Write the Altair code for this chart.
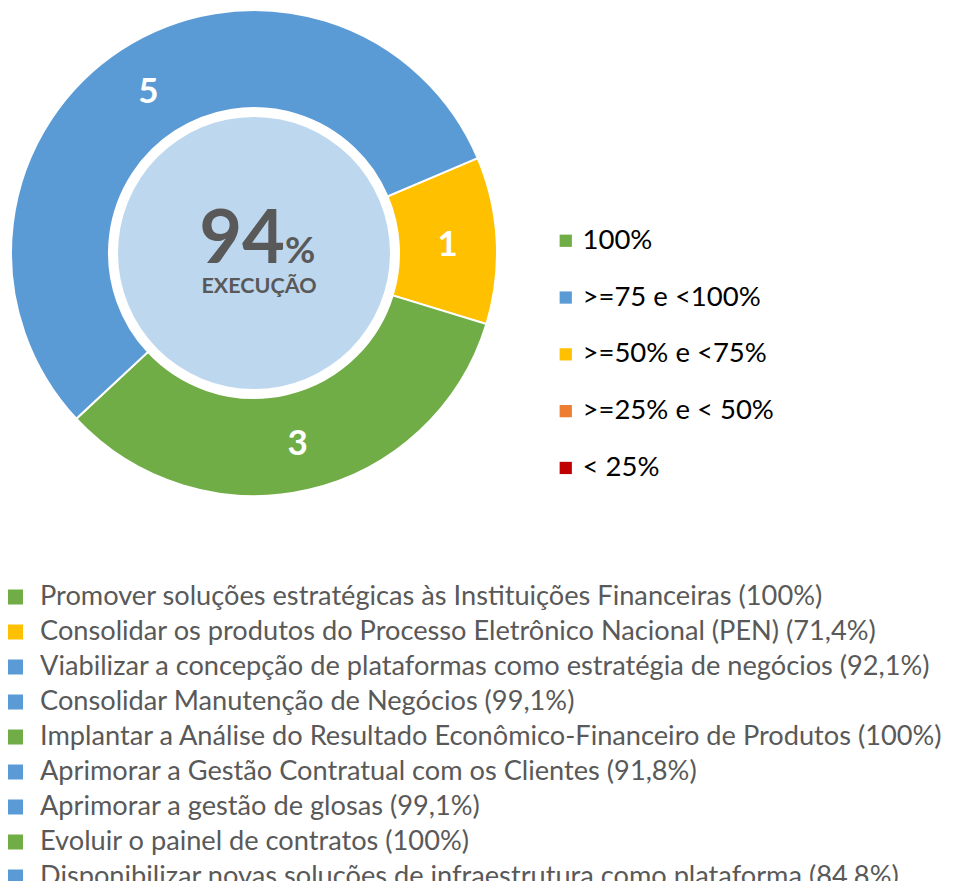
import math
import altair as alt
import pandas as pd

# ---- data ----
status_levels = ["100%", ">=75 e <100%", ">=50% e <75%", ">=25% e < 50%", "< 25%"]
status_colors = ["#70AD47", "#5B9BD5", "#FFC000", "#ED7D31", "#C00000"]

seg_status = [">=50% e <75%", "100%", ">=75 e <100%"]
seg_count = [1, 3, 5]
seg_order = [1, 2, 3]

items = [
    "Promover soluções estratégicas às Instituições Financeiras (100%)",
    "Consolidar os produtos do Processo Eletrônico Nacional (PEN) (71,4%)",
    "Viabilizar a concepção de plataformas como estratégia de negócios (92,1%)",
    "Consolidar Manutenção de Negócios (99,1%)",
    "Implantar a Análise do Resultado Econômico-Financeiro de Produtos (100%)",
    "Aprimorar a Gestão Contratual com os Clientes (91,8%)",
    "Aprimorar a gestão de glosas (99,1%)",
    "Evoluir o painel de contratos (100%)",
    "Disponibilizar novas soluções de infraestrutura como plataforma (84,8%)",
]
item_status = ["100%", ">=50% e <75%", ">=75 e <100%", ">=75 e <100%", "100%",
               ">=75 e <100%", ">=75 e <100%", "100%", ">=75 e <100%"]

center_value = "94"
center_unit = "%"
center_label = "EXECUÇÃO"

# ---- layout constants ----
CX, CY = 246, 245
R_OUT, R_IN, R_CORE = 243, 145, 136
START = math.radians(67)
FONT = "Lato"
LIST_TOP, LIST_BOTTOM = 589, 869

seg_df = pd.DataFrame({"status": seg_status, "count": seg_count, "ord": seg_order})
list_df = pd.DataFrame({"item": items, "status": item_status, "idx": list(range(len(items)))})

color_scale = alt.Scale(domain=status_levels, range=status_colors)
theta_scale = alt.Scale(range=[START, START + 2 * math.pi])

base = alt.Chart(seg_df).encode(
    theta=alt.Theta("count:Q", stack=True, scale=theta_scale),
    order=alt.Order("ord:Q"),
    x=alt.value(CX), y=alt.value(CY),
)

arcs = base.mark_arc(outerRadius=R_OUT, innerRadius=R_IN, stroke="white", strokeWidth=2).encode(
    color=alt.Color("status:N", scale=color_scale, title=None,
                    legend=alt.Legend(orient="none", legendX=544, legendY=219,
                                      symbolType="square", symbolSize=150,
                                      symbolStrokeWidth=0,
                                      labelFontSize=27.5, labelFont=FONT, labelColor="#000000",
                                      labelOffset=3, rowPadding=27.8,
                                      labelLimit=400, values=status_levels))
)

seg_labels = base.mark_text(radius=194, font=FONT, fontSize=35, fontWeight="bold", dy=2,
                            color="white", align="center", baseline="middle").encode(
    text=alt.Text("count:Q")
)

core = alt.Chart(seg_df).mark_arc(radius=R_CORE, theta=0, theta2=2 * math.pi,
                                  color="#BDD7EE").encode(
    x=alt.value(CX), y=alt.value(CY)
).transform_filter("datum.ord == 1")

center_df = pd.DataFrame({"v": [center_value], "u": [center_unit], "l": [center_label]})
big = alt.Chart(center_df).mark_text(font=FONT, fontSize=74, fontWeight="bold", color="#595959",
                                     align="right", baseline="alphabetic").encode(
    text="v:N", x=alt.value(CX + 31), y=alt.value(CY + 10))
unit = alt.Chart(center_df).mark_text(font=FONT, fontSize=37, fontWeight="bold", color="#595959",
                                      align="left", baseline="alphabetic").encode(
    text="u:N", x=alt.value(CX + 31), y=alt.value(CY + 10))
lab = alt.Chart(center_df).mark_text(font=FONT, fontSize=21.5, fontWeight="bold", color="#595959",
                                     align="center", baseline="alphabetic").encode(
    text="l:N", x=alt.value(CX + 5), y=alt.value(CY + 40))

ypos = alt.Y("idx:Q", axis=None,
             scale=alt.Scale(domain=[0, len(items) - 1], range=[LIST_TOP, LIST_BOTTOM], zero=False, nice=False))
squares = alt.Chart(list_df).mark_square(size=225, opacity=1).encode(
    y=ypos, x=alt.value(7.5),
    color=alt.Color("status:N", scale=color_scale, legend=None))
texts = alt.Chart(list_df).mark_text(font=FONT, fontSize=27.2, color="#595959", align="left",
                                     baseline="middle").encode(y=ypos, x=alt.value(32), text="item:N")

chart = alt.layer(core, arcs, seg_labels, big, unit, lab, squares, texts).resolve_scale(
    color="independent", y="independent"
).properties(
    width=940, height=873, padding=0,
    autosize=alt.AutoSizeParams(type="none"),
).configure_view(stroke=None)

chart.save("out.html", embed_options={"renderer": "svg", "actions": False})
